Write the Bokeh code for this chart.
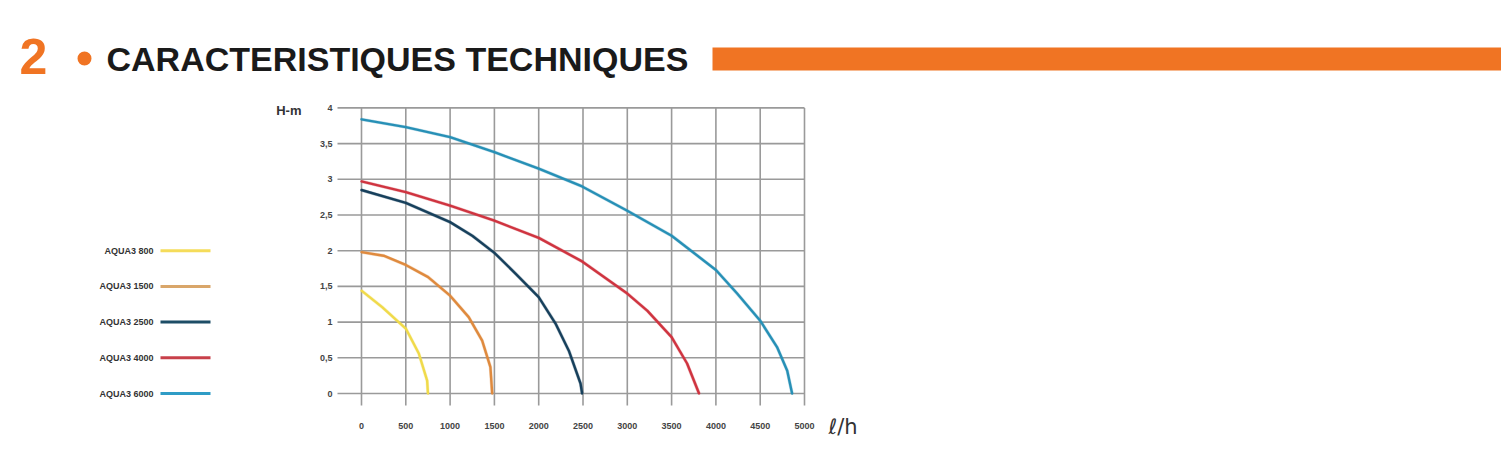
from bokeh.plotting import figure
from bokeh.models import Range1d
from bokeh.core.properties import value
from bokeh.embed import file_html
from bokeh.resources import INLINE

# ---------------- data ----------------
models = ["AQUA3 800", "AQUA3 1500", "AQUA3 2500", "AQUA3 4000", "AQUA3 6000"]
colors = ["#f0da4a", "#df8a3e", "#17405c", "#cf3440", "#2790b6"]
legend_colors = ["#f5dc5a", "#d9a66a", "#1d4d66", "#c8404a", "#2f9cc6"]

q_800 = [0, 233, 500, 647, 741, 750]
h_800 = [1.44, 1.21, 0.91, 0.56, 0.18, 0.0]

q_1500 = [0, 250, 500, 752, 1000, 1210, 1362, 1455, 1475]
h_1500 = [1.98, 1.93, 1.80, 1.63, 1.37, 1.07, 0.74, 0.37, 0.0]

q_2500 = [0, 500, 1000, 1250, 1500, 1738, 2000, 2190, 2340, 2472, 2490]
h_2500 = [2.85, 2.67, 2.40, 2.21, 1.97, 1.68, 1.35, 0.98, 0.60, 0.14, 0.0]

q_4000 = [0, 500, 1000, 1500, 2000, 2490, 3000, 3225, 3500, 3675, 3810]
h_4000 = [2.97, 2.82, 2.63, 2.42, 2.18, 1.85, 1.40, 1.16, 0.79, 0.42, 0.0]

q_6000 = [0, 500, 1000, 1500, 2000, 2490, 3000, 3500, 4000, 4240, 4500, 4690, 4805, 4860]
h_6000 = [3.84, 3.73, 3.59, 3.38, 3.15, 2.90, 2.56, 2.21, 1.73, 1.40, 1.02, 0.65, 0.32, 0.0]

series_q = [q_800, q_1500, q_2500, q_4000, q_6000]
series_h = [h_800, h_1500, h_2500, h_4000, h_6000]

x_ticks = [0, 500, 1000, 1500, 2000, 2500, 3000, 3500, 4000, 4500, 5000]
x_tick_labels = ["0", "500", "1000", "1500", "2000", "2500", "3000", "3500", "4000", "4500", "5000"]
y_ticks = [0, 0.5, 1, 1.5, 2, 2.5, 3, 3.5, 4]
y_tick_labels = ["0", "0,5", "1", "1,5", "2", "2,5", "3", "3,5", "4"]
legend_h = [2.0, 1.5, 1.0, 0.5, 0.0]

title_num = "2"
title_text = "CARACTERISTIQUES TECHNIQUES"
y_unit = "H-m"
x_unit = "ℓ/h"

# ---------------- layout (screen pixels -> data) ----------------
W, H = 1501, 444
X0_PX, PX_PER_Q = 361.0, 0.0886
Y0_PX, PX_PER_H = 393.0, 71.4


def X(px):
    return (px - X0_PX) / PX_PER_Q


def Y(py):
    return (Y0_PX - py) / PX_PER_H


ORANGE = "#f07423"
FONT = "Liberation Sans"

p = figure(width=W, height=H, output_backend="svg", toolbar_location=None,
           x_axis_type=None, y_axis_type=None, min_border=0,
           x_range=Range1d(X(0), X(W)),
           y_range=Range1d(Y(H), Y(0)))
p.outline_line_color = None
p.background_fill_color = "white"
p.border_fill_color = "white"

# grid (graph paper)
grid_col = "#9a9a9a"
p.segment(x0=[X(337)] * len(y_ticks), y0=y_ticks, x1=[x_ticks[-1]] * len(y_ticks), y1=y_ticks,
          line_color=grid_col, line_width=1.6)
p.segment(x0=x_ticks, y0=[Y(405)] * len(x_ticks), x1=x_ticks, y1=[y_ticks[-1]] * len(x_ticks),
          line_color=grid_col, line_width=1.6)

# tick labels
p.text(x=[X(332)] * len(y_ticks), y=y_ticks, text=y_tick_labels, text_align="right",
       text_baseline="middle", text_font=value(FONT), text_font_size="9px",
       text_color="#444444", text_font_style="bold")
p.text(x=x_ticks, y=[Y(425)] * len(x_ticks), text=x_tick_labels, text_align="center",
       text_baseline="middle", text_font=value(FONT), text_font_size="9px",
       text_color="#444444", text_font_style="bold")
p.text(x=[X(301)], y=[Y(110)], text=[y_unit], text_align="right", text_baseline="middle",
       text_font=value(FONT), text_font_size="13px", text_color="#333333", text_font_style="bold")
p.text(x=[X(828)], y=[Y(426)], text=[x_unit], text_align="left", text_baseline="middle",
       text_font=value("DejaVu Sans"), text_font_size="21px", text_color="#333333")

# curves
for q, h, c in zip(series_q, series_h, colors):
    p.line(q, h, line_color=c, line_width=3.4, line_alpha=0.3, line_join="round")
    p.line(q, h, line_color=c, line_width=2.4, line_join="round", line_cap="round")

# legend (label left of swatch, rows aligned with gridlines)
p.text(x=[X(153)] * len(models), y=legend_h, text=models, text_align="right",
       text_baseline="middle", text_font=value(FONT), text_font_size="9px",
       text_color="#333333", text_font_style="bold")
p.segment(x0=[X(160)] * len(models), y0=legend_h, x1=[X(210)] * len(models), y1=legend_h,
          line_color=legend_colors, line_width=3)

# header
p.text(x=[X(19)], y=[Y(56)], text=[title_num], text_align="left", text_baseline="middle",
       text_font=value(FONT), text_font_size="50px", text_font_style="bold",
       text_color=ORANGE)
p.scatter(x=[X(84)], y=[Y(58)], size=14, marker="circle", fill_color=ORANGE, line_color=None)
p.text(x=[X(106)], y=[Y(58)], text=[title_text], text_align="left", text_baseline="middle",
       text_font=value(FONT), text_font_size="34px", text_font_style="bold",
       text_color="#1a1a1a")
p.quad(left=[X(712)], right=[X(W)], top=[Y(47)], bottom=[Y(70)],
       fill_color=ORANGE, line_color=None)

open("out.html", "w").write(file_html(p, INLINE))
